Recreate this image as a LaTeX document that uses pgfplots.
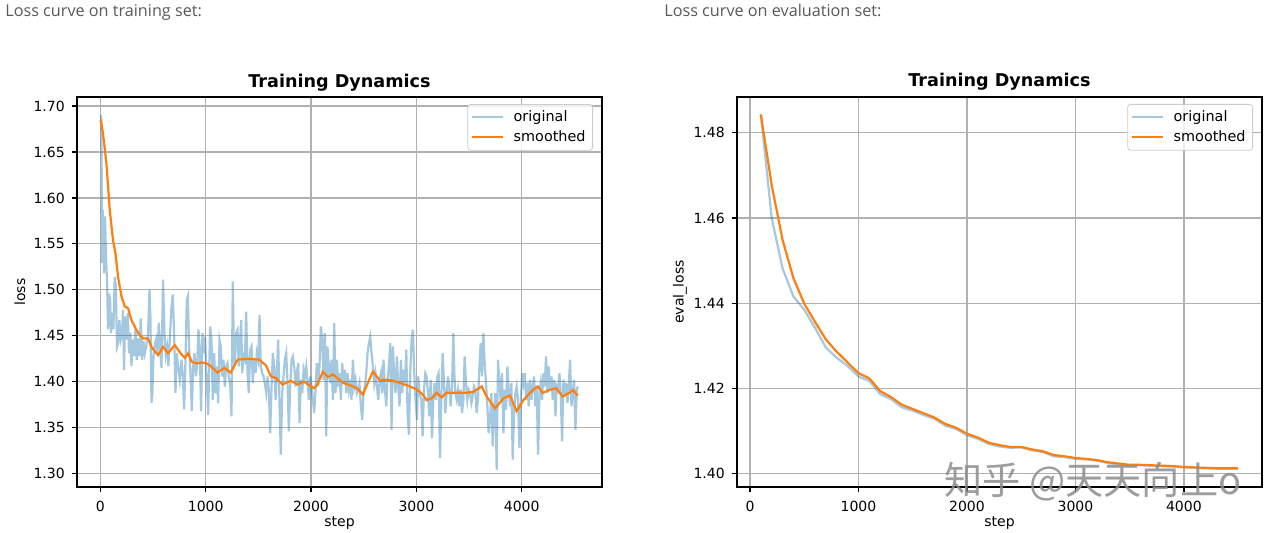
\documentclass[border=0pt]{standalone}
\usepackage{pgfplots}
\pgfplotsset{compat=1.18}
\usepackage{fontspec}
\setmainfont{DejaVu Sans}
\newfontfamily\capfont{Open Sans}
\newfontfamily\cjk{Noto Sans CJK SC}
\definecolor{mplblue}{HTML}{1F77B4}
\definecolor{mplorange}{HTML}{FF7F0E}
\definecolor{gridgray}{HTML}{B0B0B0}
\definecolor{capgray}{HTML}{595959}

\pgfplotsset{
  mystyle/.style={
    scale only axis,
    width=262.5pt, height=195pt,
    anchor=south west,
    axis line style={line width=0.6pt, black},
    grid=major,
    major grid style={line width=0.6pt, gridgray},
    tick align=outside, tick pos=left,
    major tick length=2.6pt,
    every tick/.style={black, line width=0.6pt},
    tick label style={font=\fontsize{7}{8}\selectfont},
    /pgf/number format/assume math mode=true,
    title style={font=\bfseries\fontsize{8.8}{10}\selectfont, at={(0.5,1)}, anchor=base, yshift=-1pt},
    xlabel style={font=\fontsize{7}{8}\selectfont, at={(axis description cs:0.5,0)}, anchor=base, yshift=-19.5pt},
    ylabel style={font=\fontsize{7}{8}\selectfont, at={(axis description cs:-0.1086,0.5)}, anchor=center},
    xtick={0,1000,2000,3000,4000},
    scaled ticks=false,
    xticklabel style={yshift=-0.8pt, /pgf/number format/.cd, fixed, 1000 sep={}},
    yticklabel style={/pgf/number format/.cd, fixed, fixed zerofill, precision=2},
    legend cell align=left,
    legend style={at={(1,1)}, anchor=north east, xshift=-4.5pt, yshift=-3.5pt,
      draw=black!20, rounded corners=1.5pt, fill=white, fill opacity=0.8,
      draw opacity=1, text opacity=1, font=\fontsize{7.2}{8}\selectfont,
      inner xsep=1.5pt, inner ysep=1pt, row sep=-1pt, column sep=3pt, nodes={inner sep=2pt}},
    legend image code/.code={\draw[#1] (0pt,0pt) -- (15.4pt,0pt);},
  },
  origline/.style={mplblue, draw opacity=0.4, line width=1.1pt},
  smoothline/.style={mplorange, line width=1.1pt},
}

\begin{document}
\begin{tikzpicture}[x=0.5pt,y=0.5pt]
\useasboundingbox (0,0) rectangle (1271,532);
\fill[white] (0,0) rectangle (1271,532);

\node[anchor=base west, inner sep=0pt, text=capgray, font=\capfont\fontsize{8.1}{10}\selectfont] at (5,516) {Loss curve on training set:};
\node[anchor=base west, inner sep=0pt, text=capgray, font=\capfont\fontsize{8.1}{10}\selectfont] at (664,516) {Loss curve on evaluation set:};

\begin{axis}[mystyle, at={(38.5pt,22.5pt)},
  xmin=-222, xmax=4762, ymin=1.2855, ymax=1.7098,
  ytick={1.30,1.35,1.40,1.45,1.50,1.55,1.60,1.65,1.70},
  title={Training Dynamics}, xlabel={step}, ylabel={loss}]
\addplot[origline] coordinates {
(3,1.690) (10,1.685) (16,1.529) (22,1.587) (28,1.576) (35,1.518) (44,1.580) (54,1.533) (63,1.511) (73,1.457)
(82,1.496) (92,1.489) (101,1.453) (111,1.475) (124,1.457) (136,1.514) (146,1.504) (158,1.438) (168,1.442) (180,1.467)
(193,1.446) (206,1.453) (215,1.478) (225,1.413) (234,1.471) (247,1.446) (260,1.475) (272,1.431) (285,1.453) (295,1.417)
(307,1.446) (320,1.428) (333,1.457) (345,1.424) (358,1.447) (371,1.428) (383,1.469) (396,1.424) (409,1.444) (421,1.431)
(437,1.440) (453,1.453) (466,1.500) (475,1.471) (485,1.377) (494,1.388) (504,1.428) (516,1.440) (529,1.446) (542,1.431)
(554,1.464) (567,1.438) (580,1.415) (595,1.511) (608,1.453) (621,1.429) (633,1.438) (646,1.417) (662,1.453) (675,1.482)
(687,1.495) (700,1.453) (713,1.388) (725,1.431) (738,1.417) (754,1.402) (770,1.424) (782,1.409) (795,1.370) (808,1.424)
(820,1.489) (830,1.493) (842,1.438) (855,1.409) (868,1.368) (880,1.417) (893,1.431) (906,1.406) (918,1.417) (931,1.457)
(944,1.435) (956,1.368) (969,1.453) (982,1.431) (994,1.449)
(1004,1.4167) (1023,1.3641) (1042,1.4601) (1055,1.4457) (1067,1.3804) (1080,1.4312) (1093,1.3877) (1105,1.4167) (1118,1.3768) (1131,1.4457)
(1143,1.4384) (1156,1.4058) (1169,1.4239) (1181,1.3949) (1194,1.4167) (1207,1.4203) (1219,1.4058) (1232,1.3986) (1245,1.3623) (1257,1.5091)
(1267,1.4348) (1276,1.4167) (1289,1.4529) (1302,1.4565) (1314,1.4167) (1327,1.4457) (1337,1.4674) (1346,1.4094) (1359,1.4275) (1371,1.4239)
(1384,1.4764) (1397,1.4094) (1409,1.3877) (1422,1.4348) (1435,1.4384) (1447,1.3986) (1460,1.4239) (1473,1.4094) (1485,1.4312) (1498,1.4239)
(1511,1.4728) (1523,1.4167) (1536,1.4094) (1549,1.4058) (1561,1.3986) (1574,1.3877) (1587,1.4058) (1599,1.3913) (1612,1.3442) (1625,1.3949)
(1637,1.4312) (1650,1.4167) (1663,1.3804) (1675,1.4094) (1688,1.4457) (1701,1.3732) (1713,1.3207) (1726,1.3877) (1739,1.4058) (1751,1.4239)
(1764,1.4312) (1777,1.3986) (1789,1.3460) (1802,1.3949) (1815,1.4239) (1827,1.4275) (1840,1.4167) (1853,1.3949) (1865,1.4094) (1878,1.4203)
(1891,1.3551) (1903,1.4022) (1916,1.3877) (1929,1.4130) (1941,1.4058) (1954,1.4167) (1967,1.3986) (1979,1.3804) (1992,1.4058) (2005,1.3949)
(2017,1.3804) (2030,1.3659)
(2055,1.4203) (2068,1.3949) (2080,1.4167) (2093,1.4601) (2106,1.4457) (2118,1.4022) (2131,1.4529) (2144,1.3406) (2156,1.4384) (2169,1.4167)
(2182,1.3986) (2194,1.4239) (2207,1.3804) (2220,1.4638) (2232,1.3877) (2245,1.4239) (2258,1.3949) (2270,1.4094) (2283,1.3804) (2296,1.4203)
(2308,1.3986) (2321,1.4130) (2334,1.3877) (2346,1.4094) (2359,1.3913) (2372,1.4022) (2384,1.3804) (2397,1.4239) (2410,1.3949) (2422,1.4022)
(2435,1.3877) (2448,1.3913) (2460,1.3986) (2473,1.3732) (2486,1.3587) (2498,1.3877) (2511,1.3949) (2524,1.4094) (2536,1.4312) (2549,1.4420)
(2562,1.4493) (2574,1.4312) (2587,1.4167) (2600,1.3986) (2612,1.4094) (2625,1.3949) (2638,1.3804) (2651,1.4022) (2663,1.4094) (2676,1.3877)
(2688,1.4239) (2701,1.3913) (2714,1.3732) (2726,1.4022) (2739,1.4167) (2752,1.4420) (2764,1.3478) (2777,1.4384) (2790,1.4058) (2802,1.3877)
(2815,1.4275) (2828,1.3949) (2840,1.3732) (2853,1.4239) (2866,1.3877) (2878,1.4130) (2891,1.3986) (2904,1.4348) (2916,1.3659) (2929,1.3424)
(2942,1.4094) (2954,1.4457) (2967,1.4565) (2980,1.4094) (2992,1.3804) (3005,1.3587) (3018,1.4058) (3030,1.3877)
(3047,1.3804) (3059,1.3406) (3072,1.3913) (3085,1.4094) (3097,1.4058) (3110,1.3877) (3123,1.3623) (3135,1.4022) (3148,1.3388) (3161,1.3804)
(3173,1.3986) (3186,1.3804) (3199,1.4058) (3211,1.4094) (3224,1.3170) (3237,1.3804) (3249,1.4312) (3262,1.3986) (3275,1.3659) (3287,1.3877)
(3300,1.4058) (3313,1.3913) (3325,1.3732) (3338,1.3949) (3351,1.4529) (3360,1.4094) (3370,1.3877) (3382,1.3804) (3395,1.3913) (3408,1.3732)
(3420,1.3913) (3433,1.3659) (3446,1.3804) (3458,1.4275) (3471,1.3986) (3484,1.3804) (3496,1.3913) (3509,1.3877) (3522,1.3768) (3534,1.3841)
(3547,1.3949) (3560,1.3913) (3572,1.3659) (3585,1.3804) (3598,1.4167) (3610,1.4420) (3623,1.4058) (3636,1.4529) (3648,1.4203) (3661,1.3986)
(3674,1.3732) (3686,1.3442) (3699,1.3587) (3712,1.3877) (3724,1.3297) (3737,1.3696) (3750,1.3877) (3762,1.3043) (3775,1.4239) (3788,1.3986)
(3800,1.3804) (3813,1.4094) (3826,1.3442) (3838,1.3913) (3851,1.3696) (3864,1.4167) (3876,1.3913) (3889,1.3732) (3902,1.3986) (3914,1.3152)
(3927,1.3659) (3940,1.3877) (3952,1.3949) (3965,1.3804) (3978,1.3279) (3990,1.3732) (4003,1.4094) (4016,1.3986) (4028,1.4094) (4041,1.3804)
(4054,1.3986) (4066,1.3732) (4079,1.4022) (4092,1.3804) (4104,1.3949) (4117,1.4058) (4130,1.3732) (4142,1.3949) (4155,1.3207) (4168,1.3877)
(4180,1.3986) (4193,1.3804) (4206,1.4094) (4218,1.3949) (4231,1.4275) (4244,1.3877) (4256,1.4167) (4269,1.3913) (4282,1.4058) (4294,1.3804)
(4307,1.4022) (4320,1.3623) (4332,1.3949) (4345,1.3913) (4358,1.4094) (4370,1.3877) (4383,1.3351) (4396,1.4022) (4408,1.3841) (4421,1.3986)
(4434,1.3768) (4446,1.3949) (4459,1.4239) (4472,1.3732) (4484,1.3877) (4497,1.4022) (4510,1.3478) (4522,1.3913) (4532,1.3949)
};
\addlegendentry{original}
\addplot[smoothline] coordinates {
(3,1.685) (25,1.670) (57,1.638) (89,1.587) (120,1.554) (143,1.540) (168,1.514) (200,1.493) (231,1.482) (263,1.480)
(295,1.467) (326,1.460) (358,1.453) (405,1.447) (453,1.447) (485,1.438) (516,1.433) (548,1.429) (595,1.438) (643,1.431)
(706,1.440) (754,1.432) (801,1.426) (833,1.431) (865,1.422) (912,1.420) (960,1.421) (1007,1.420) (1048,1.417) (1112,1.410)
(1175,1.415) (1238,1.410) (1302,1.424) (1397,1.425) (1508,1.424) (1571,1.418) (1618,1.406) (1666,1.404) (1729,1.397) (1808,1.401)
(1872,1.397) (1935,1.400) (1983,1.396) (2030,1.393) (2065,1.398) (2112,1.411) (2160,1.405) (2207,1.408) (2302,1.399) (2397,1.395)
(2445,1.392) (2492,1.386) (2540,1.399) (2587,1.411) (2650,1.402) (2745,1.402) (2840,1.399) (2935,1.395) (2999,1.392) (3062,1.386)
(3097,1.380) (3145,1.382) (3192,1.388) (3240,1.383) (3287,1.388) (3382,1.388) (3477,1.388) (3541,1.389) (3620,1.395) (3667,1.384)
(3747,1.371) (3826,1.382) (3889,1.385) (3952,1.368) (4016,1.380) (4079,1.388) (4104,1.391) (4152,1.395) (4199,1.388) (4263,1.391)
(4326,1.393) (4389,1.384) (4453,1.388) (4484,1.391) (4532,1.385)
};
\addlegendentry{smoothed}
\end{axis}

\begin{axis}[mystyle, at={(368.5pt,22.5pt)},
  xmin=-120, xmax=4720, ymin=1.3969, ymax=1.4884,
  ytick={1.40,1.42,1.44,1.46,1.48},
  title={Training Dynamics}, xlabel={step}, ylabel={eval\_loss}]
\addplot[origline] coordinates {
(100,1.4843) (200,1.4600) (300,1.4482) (400,1.4416) (500,1.4385) (600,1.4342) (700,1.4296) (800,1.4272) (900,1.4253)
(1000,1.4228) (1100,1.4218) (1200,1.4187) (1300,1.4175) (1400,1.4156) (1500,1.4148) (1600,1.4138) (1700,1.4129) (1800,1.4113)
(1900,1.4105) (2000,1.4091) (2100,1.4082) (2200,1.4070) (2300,1.4064) (2400,1.4061) (2500,1.4062) (2600,1.4055) (2700,1.4051)
(2800,1.4041) (2900,1.4039) (3000,1.4035) (3100,1.4034) (3200,1.4031) (3300,1.4025) (3400,1.4022) (3500,1.4020) (3600,1.4020)
(3700,1.4019) (3800,1.4018) (3900,1.4017) (4000,1.4015) (4100,1.4014) (4200,1.4013) (4300,1.4012) (4400,1.4012) (4500,1.4012)
};
\addlegendentry{original}
\addplot[smoothline] coordinates {
(100,1.4843) (200,1.4677) (300,1.4549) (400,1.4459) (500,1.4399) (600,1.4356) (700,1.4315) (800,1.4286) (900,1.4261)
(1000,1.4236) (1100,1.4224) (1200,1.4194) (1300,1.4180) (1400,1.4162) (1500,1.4152) (1600,1.4142) (1700,1.4132) (1800,1.4117)
(1900,1.4108) (2000,1.4094) (2100,1.4085) (2200,1.4073) (2300,1.4067) (2400,1.4063) (2500,1.4063) (2600,1.4057) (2700,1.4053)
(2800,1.4044) (2900,1.4041) (3000,1.4037) (3100,1.4035) (3200,1.4032) (3300,1.4027) (3400,1.4024) (3500,1.4021) (3600,1.4021)
(3700,1.4020) (3800,1.4019) (3900,1.4018) (4000,1.4016) (4100,1.4015) (4200,1.4014) (4300,1.4013) (4400,1.4013) (4500,1.4013)
};
\addlegendentry{smoothed}
\end{axis}

\node[anchor=base west, inner sep=0pt, text=black!45, opacity=0.85, font=\cjk\fontsize{19.1}{23}\selectfont] at (944,38) {知乎 @天天向上o};
\end{tikzpicture}
\end{document}
